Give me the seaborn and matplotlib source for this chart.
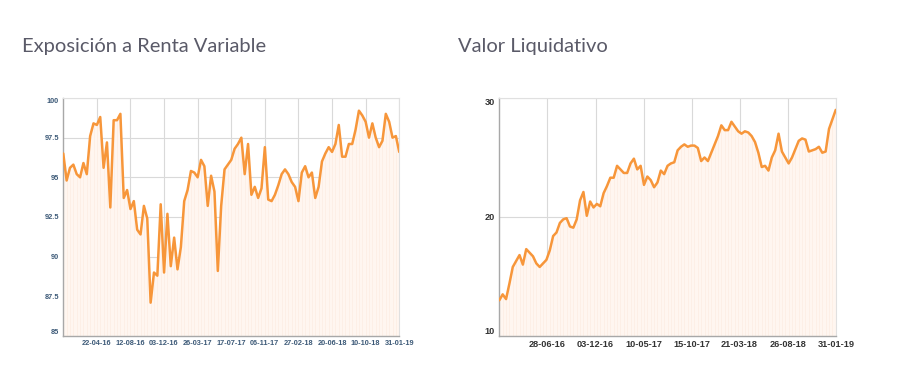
import numpy as np
import pandas as pd
import seaborn as sns
import matplotlib.pyplot as plt

# Exposición a Renta Variable (%)
exposicion = [96.5, 94.8, 95.6, 95.8, 95.2, 95.0, 95.9, 95.2, 97.6, 98.4,
              98.3, 98.8, 95.6, 97.2, 93.1, 98.6, 98.6, 99.0, 93.7, 94.2,
              93.0, 93.5, 91.7, 91.4, 93.2, 92.4, 87.1, 89.0, 88.8, 93.3,
              89.0, 92.7, 89.4, 91.2, 89.2, 90.6, 93.5, 94.2, 95.4, 95.3,
              95.0, 96.1, 95.7, 93.2, 95.1, 94.1, 89.1, 93.2, 95.5, 95.8,
              96.1, 96.8, 97.1, 97.5, 95.2, 97.1, 93.9, 94.4, 93.7, 94.3,
              96.9, 93.6, 93.5, 93.9, 94.5, 95.2, 95.5, 95.2, 94.7, 94.4,
              93.5, 95.3, 95.7, 95.0, 95.3, 93.7, 94.4, 96.0, 96.5, 96.9,
              96.6, 97.1, 98.3, 96.3, 96.3, 97.1, 97.1, 98.0, 99.2, 98.9,
              98.5, 97.5, 98.4, 97.5, 96.9, 97.3, 99.0, 98.5, 97.5, 97.6,
              96.6]

# Valor Liquidativo
valor = [13.0, 13.5, 13.1, 14.4, 15.8, 16.3, 16.8, 16.0, 17.3, 17.0,
         16.7, 16.1, 15.8, 16.1, 16.4, 17.2, 18.4, 18.7, 19.5, 19.8,
         19.9, 19.2, 19.1, 19.8, 21.4, 22.1, 20.1, 21.3, 20.8, 21.1,
         20.9, 22.0, 22.6, 23.3, 23.3, 24.3, 24.0, 23.7, 23.7, 24.5,
         24.9, 24.0, 24.3, 22.7, 23.4, 23.1, 22.5, 22.9, 23.9, 23.6,
         24.3, 24.5, 24.6, 25.6, 25.9, 26.1, 25.9, 26.0, 26.0, 25.8,
         24.7, 25.0, 24.7, 25.4, 26.1, 26.8, 27.7, 27.3, 27.3, 28.0,
         27.6, 27.2, 27.0, 27.2, 27.1, 26.8, 26.3, 25.4, 24.2, 24.3,
         23.9, 25.0, 25.6, 27.0, 25.5, 25.0, 24.5, 25.0, 25.7, 26.4,
         26.6, 26.5, 25.5, 25.6, 25.7, 25.9, 25.4, 25.5, 27.4, 28.2,
         29.0]

left_dates = pd.date_range("2016-01-01", "2019-01-31", periods=len(exposicion))
right_dates = pd.date_range("2016-01-22", "2019-01-31", periods=len(valor))

left_xlabels = ["22-04-16", "12-08-16", "03-12-16", "26-03-17", "17-07-17",
                "06-11-17", "27-02-18", "20-06-18", "10-10-18", "31-01-19"]
right_xlabels = ["28-06-16", "03-12-16", "10-05-17", "15-10-17", "21-03-18",
                 "26-08-18", "31-01-19"]
left_yticks = [85, 87.5, 90, 92.5, 95, 97.5, 100]
left_ylabels = ["85", "87.5", "90", "92.5", "95", "97.5", "100"]
right_yticks = [10, 20, 30]

line_color = "#f7963a"
fill_color = "#fff6f0"
stripe_color = "#fdede3"

sns.set_style("white")
plt.rcParams["font.family"] = ["Liberation Sans", "DejaVu Sans"]

fig = plt.figure(figsize=(9, 3.76), dpi=100)
ax1 = fig.add_axes([0.0703, 0.1064, 0.3733, 0.633])
ax2 = fig.add_axes([0.5548, 0.1064, 0.3738, 0.633])


def draw(ax, dates, values, ymin, ymax, xlabels, yticks, ylabels, minor_step,
         tick_size, tick_color):
    df = pd.DataFrame({"fecha": dates, "valor": values})
    ax.fill_between(df["fecha"], ymin, df["valor"], color=fill_color, lw=0, zorder=1)
    ax.vlines(df["fecha"], ymin, df["valor"], color=stripe_color, lw=0.5, zorder=1)
    sns.lineplot(data=df, x="fecha", y="valor", ax=ax, color=line_color, lw=1.8,
                 zorder=3)
    ax.set_xlim(dates[0], dates[-1])
    ax.set_ylim(ymin, ymax)
    ax.set_xlabel("")
    ax.set_ylabel("")

    xt = pd.to_datetime(xlabels, format="%d-%m-%y")
    ax.set_xticks(xt)
    ax.set_xticklabels(xlabels)
    ax.set_xticks(dates, minor=True)
    ax.set_yticks(yticks)
    ax.set_yticklabels(ylabels)
    ax.set_yticks(np.arange(ymin, ymax + 0.001, minor_step), minor=True)

    ax.grid(True, which="major", color="#d9d9d9", lw=0.8, zorder=0)
    ax.set_axisbelow(True)
    ax.tick_params(which="major", length=0, labelsize=tick_size,
                   labelcolor=tick_color, pad=3)
    ax.tick_params(which="minor", direction="in", length=2, width=0.6,
                   color="#aaaaaa")
    for lab in ax.get_xticklabels() + ax.get_yticklabels():
        lab.set_fontweight("bold")
    ylabs = ax.get_yticklabels()
    ylabs[0].set_va("bottom")
    ylabs[-1].set_va("top")

    for side in ["left", "bottom"]:
        ax.spines[side].set_color("#a8a8a8")
        ax.spines[side].set_linewidth(1.0)
    for side in ["top", "right"]:
        ax.spines[side].set_visible(True)
        ax.spines[side].set_color("#e0e0e0")
        ax.spines[side].set_linewidth(0.8)


draw(ax1, left_dates, exposicion, 85, 100, left_xlabels, left_yticks,
     left_ylabels, 0.5, 5.3, "#3d5a78")
draw(ax2, right_dates, valor, 10, 30, right_xlabels, right_yticks,
     ["10", "20", "30"], 2.5, 6.6, "#333333")

title_kw = dict(fontsize=14.5, color="#5a5a68", va="baseline",
                family=["Lato", "DejaVu Sans"], fontweight="normal")
fig.text(0.0244, 0.862, "Exposición a Renta Variable", **title_kw)
fig.text(0.509, 0.862, "Valor Liquidativo", **title_kw)

fig.savefig("out.png", dpi=100)
